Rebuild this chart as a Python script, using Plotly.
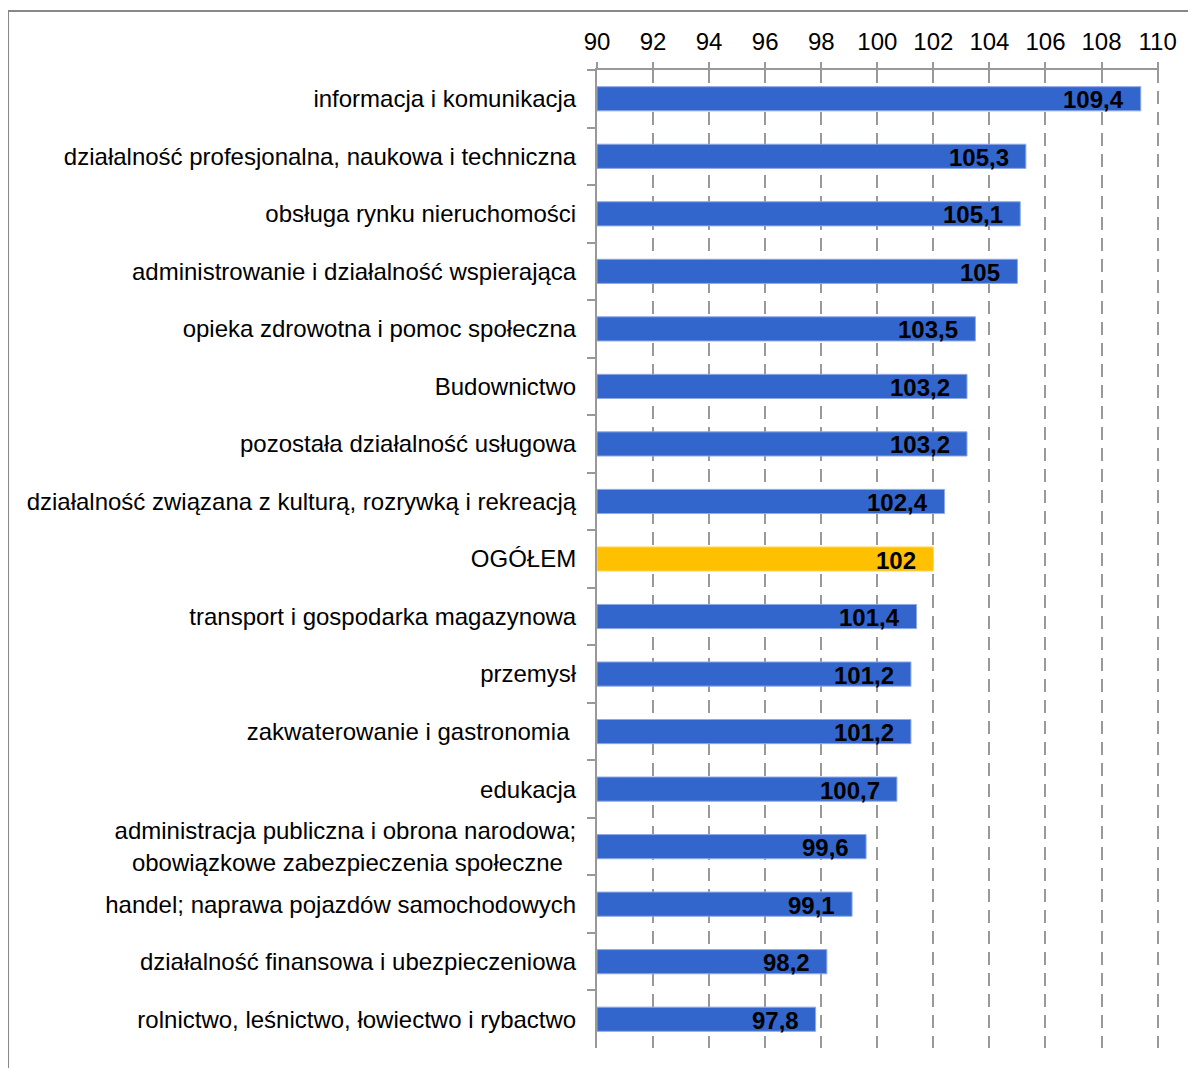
import plotly.graph_objects as go

categories = [
    "informacja i komunikacja",
    "działalność profesjonalna, naukowa i techniczna",
    "obsługa rynku nieruchomości",
    "administrowanie i działalność wspierająca",
    "opieka zdrowotna i pomoc społeczna",
    "Budownictwo",
    "pozostała działalność usługowa",
    "działalność związana z kulturą, rozrywką i rekreacją",
    "OGÓŁEM",
    "transport i gospodarka magazynowa",
    "przemysł",
    "zakwaterowanie i gastronomia\u00a0",
    "edukacja",
    "administracja publiczna i obrona narodowa;<br>obowiązkowe zabezpieczenia społeczne\u00a0\u00a0",
    "handel; naprawa pojazdów samochodowych",
    "działalność finansowa i ubezpieczeniowa",
    "rolnictwo, leśnictwo, łowiectwo i rybactwo",
]
values = [109.4, 105.3, 105.1, 105.0, 103.5, 103.2, 103.2, 102.4, 102.0,
          101.4, 101.2, 101.2, 100.7, 99.6, 99.1, 98.2, 97.8]
highlight = "OGÓŁEM"
x_ticks = list(range(90, 111, 2))

BLUE = "#3366CC"
YELLOW = "#FFC000"
colors = [YELLOW if c == highlight else BLUE for c in categories]
line_colors = ["#FFD966" if c == highlight else "#8FA8E6" for c in categories]

def fmt(v):
    s = f"{v:.1f}".replace(".", ",")
    if s.endswith(",0"):
        s = s[:-2]
    return s

font_family = "Liberation Sans, Arial, sans-serif"

fig = go.Figure()
fig.add_trace(go.Bar(
    y=categories,
    x=[v - 90 for v in values],
    base=90,
    orientation="h",
    width=0.42,
    marker=dict(color=colors, line=dict(color=line_colors, width=1)),
    hoverinfo="skip",
))

annotations = []
for c, v in zip(categories, values):
    annotations.append(dict(
        x=v, y=c, xref="x", yref="y",
        text=f"<b>{fmt(v)}</b>", showarrow=False,
        xanchor="right", yanchor="middle", xshift=-15, yshift=-1,
        font=dict(family=font_family, size=24, color="black"),
    ))

fig.update_layout(
    width=1188, height=1060,
    margin=dict(l=589, r=37, t=62, b=20),
    paper_bgcolor="white", plot_bgcolor="white",
    showlegend=False,
    font=dict(family=font_family, size=24, color="black"),
    annotations=annotations,
    shapes=[dict(
        type="rect", xref="paper", yref="paper",
        x0=-1.048, x1=1.2, y0=-0.2, y1=1.0603,
        line=dict(color="#888888", width=2), fillcolor="rgba(0,0,0,0)",
        layer="below",
    )],
    xaxis=dict(
        side="top", range=[90, 110.05], tickvals=x_ticks,
        ticktext=[str(t) for t in x_ticks],
        showgrid=True, gridcolor="#999999", gridwidth=2, griddash="13px,8px",
        showline=True, linecolor="#999999", linewidth=2,
        ticks="outside", ticklen=6, tickcolor="#999999", tickwidth=2,
        ticklabelstandoff=2,
        zeroline=False, tickfont=dict(size=24, color="black"),
        fixedrange=True,
    ),
    yaxis=dict(
        autorange="reversed", type="category",
        showline=True, linecolor="#999999", linewidth=2,
        ticks="outside", ticklen=8, tickcolor="#999999", tickwidth=2,
        tickson="boundaries", showgrid=False, zeroline=False,
        ticklabelstandoff=14,
        tickfont=dict(size=24, color="black"),
        fixedrange=True,
    ),
)

fig.write_html("out.html")
